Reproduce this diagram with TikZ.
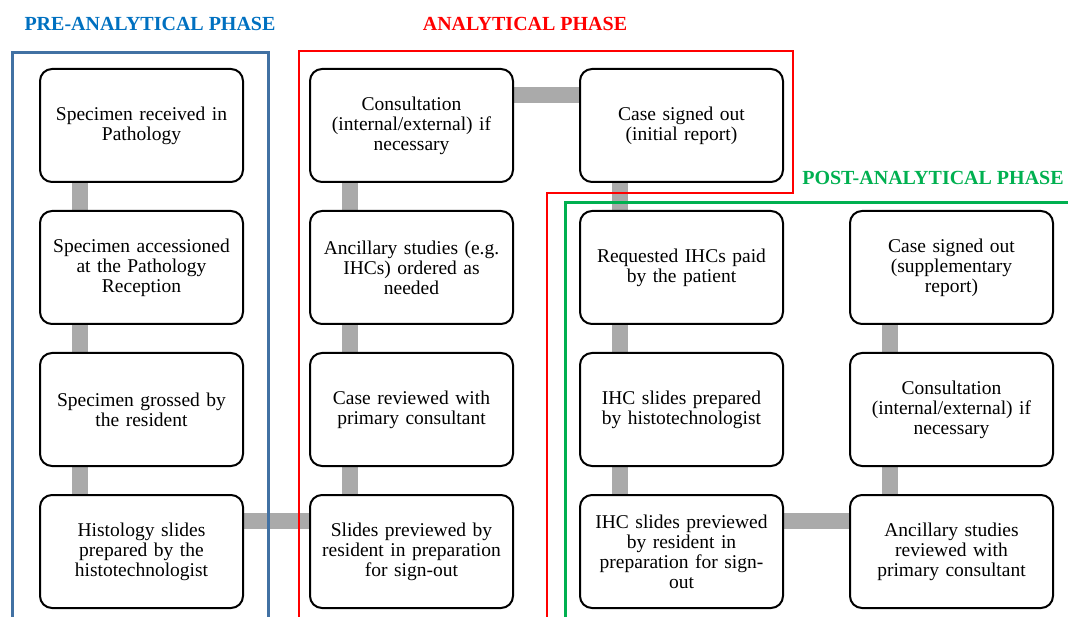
\documentclass[tikz,border=0pt]{standalone}
\usepackage{fontspec}
\setmainfont{Liberation Serif}
\usetikzlibrary{positioning, backgrounds}
\definecolor{preblue}{RGB}{65,113,163}
\definecolor{pretitle}{RGB}{0,112,192}
\definecolor{postgreen}{RGB}{0,176,80}
\definecolor{linkgray}{RGB}{170,170,170}
\tikzset{
  stepbox/.style = {draw, line width = 2pt, rounded corners = 12pt, fill = white,
    minimum width = 203pt, minimum height = 113pt, text width = 196pt,
    align = center, font = \fontsize{19.5}{20}\selectfont, inner sep = 0pt},
  link/.style = {draw = linkgray, line width = 16pt},
  phase/.style = {font = \fontsize{20}{22}\selectfont\bfseries}
}
\begin{document}
\begin{tikzpicture}[x = 1pt, y = -1pt]
\useasboundingbox (0,0) rectangle (1068,617);
% phase frames
\draw [preblue, line width = 3pt] (12,630) -- (12,53) -- (268,53) -- (268,630);
\draw [red, line width = 2pt] (299,630) -- (299,51) -- (793,51) -- (793,193) -- (547,193) -- (547,630);
\draw [postgreen, line width = 3pt] (1075,203) -- (565,203) -- (565,630);
\node [phase, text = pretitle] (pre) at (150,24) {PRE-ANALYTICAL PHASE};
\node [phase, text = red] (ana) at (525,24) {ANALYTICAL PHASE};
\node [phase, text = postgreen] (post) at (933,178) {POST-ANALYTICAL PHASE};
% pre-analytical
\node [stepbox] (received) at (141.5,125.5) {Specimen received in\\Pathology};
\node [stepbox, below = 27pt of received] (accession) {Specimen accessioned\\at the Pathology\\Reception};
\node [stepbox, below = 27pt of accession] (grossed) {Specimen grossed by\\the resident};
\node [stepbox, below = 27pt of grossed] (histo) {Histology slides\\prepared by the\\histotechnologist};
% analytical
\node [stepbox, right = 65pt of histo] (preview) {Slides previewed by\\resident in preparation\\for sign-out};
\node [stepbox, above = 27pt of preview] (reviewed) {Case reviewed with\\primary consultant};
\node [stepbox, above = 27pt of reviewed] (ancillary) {Ancillary studies (e.g.\\IHCs) ordered as\\needed};
\node [stepbox, above = 27pt of ancillary] (consult) {Consultation\\(internal/external) if\\necessary};
\node [stepbox, right = 65pt of consult] (initial) {Case signed out\\(initial report)};
% post-analytical
\node [stepbox, below = 27pt of initial] (paid) {Requested IHCs paid\\by the patient};
\node [stepbox, below = 27pt of paid] (ihcprep) {IHC slides prepared\\by histotechnologist};
\node [stepbox, below = 27pt of ihcprep] (ihcprev) {IHC slides previewed\\by resident in\\preparation for sign-\\out};
\node [stepbox, right = 65pt of ihcprev] (ancrev) {Ancillary studies\\reviewed with\\primary consultant};
\node [stepbox, above = 27pt of ancrev] (consult2) {Consultation\\(internal/external) if\\necessary};
\node [stepbox, above = 27pt of consult2] (supp) {Case signed out\\(supplementary\\report)};
% links behind the boxes
\begin{pgfonlayer}{background}
\foreach \a/\b in {received/accession, accession/grossed, grossed/histo,
                   consult/ancillary, ancillary/reviewed, reviewed/preview,
                   initial/paid, paid/ihcprep, ihcprep/ihcprev,
                   supp/consult2, consult2/ancrev}
  \path [link] ([xshift = 41pt]\a.south west) -- ([xshift = 41pt]\b.north west);
\foreach \a/\b in {histo/preview, consult/initial, ihcprev/ancrev}
  \path [link] ([yshift = -27pt]\a.north east) -- ([yshift = -27pt]\b.north west);
\end{pgfonlayer}
\end{tikzpicture}
\end{document}
